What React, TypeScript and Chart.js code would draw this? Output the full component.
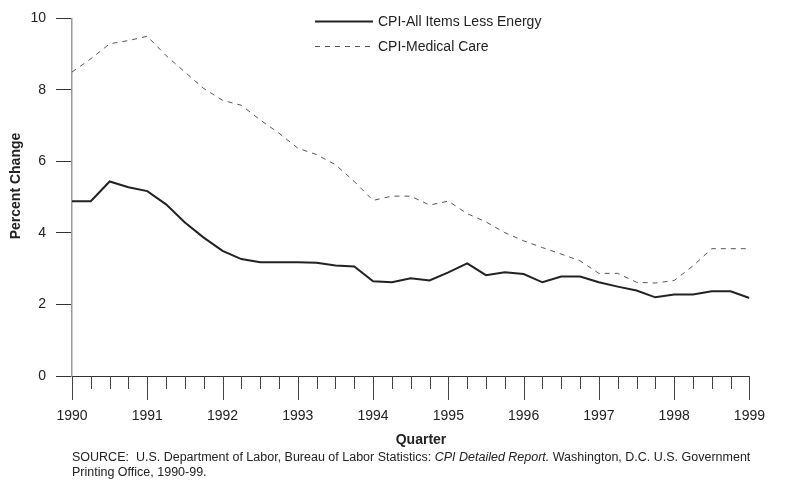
import React, { useEffect, useRef } from "react";
import { Chart, registerables } from "chart.js";

Chart.register(...registerables);

const yearLabels = ["1990", "1991", "1992", "1993", "1994", "1995", "1996", "1997", "1998", "1999"];
const seriesNames = ["CPI-All Items Less Energy", "CPI-Medical Care"];
const allItemsLessEnergy = [
  4.89, 4.89, 5.44, 5.28, 5.17, 4.8, 4.29, 3.87, 3.5, 3.27, 3.18, 3.18, 3.18, 3.17, 3.09, 3.06,
  2.65, 2.62, 2.73, 2.67, 2.9, 3.15, 2.82, 2.9, 2.85, 2.62, 2.78, 2.78, 2.62, 2.5, 2.39, 2.2,
  2.28, 2.28, 2.37, 2.37, 2.18,
];
const medicalCare = [
  8.5, 8.87, 9.29, 9.38, 9.5, 8.96, 8.5, 8.04, 7.71, 7.57, 7.16, 6.79, 6.37, 6.19, 5.91, 5.44,
  4.91, 5.03, 5.03, 4.78, 4.89, 4.54, 4.31, 4.01, 3.78, 3.59, 3.41, 3.22, 2.87, 2.87, 2.62, 2.6,
  2.67, 3.08, 3.56, 3.56, 3.56,
];
const yTicks = [0, 2, 4, 6, 8, 10];
const yTitle = "Percent Change";
const xTitle = "Quarter";

const FONT = "'Liberation Sans', Arial, Helvetica, sans-serif";
const TEXT = "#222";

const decorPlugin = {
  id: "decor",
  afterDraw(chart: any) {
    const ctx = chart.ctx as CanvasRenderingContext2D;
    const xs = chart.scales.x;
    const area = chart.chartArea;
    ctx.save();
    // quarter / year tick marks
    ctx.strokeStyle = "#444";
    ctx.lineWidth = 1;
    const n = allItemsLessEnergy.length;
    for (let i = 0; i < n; i++) {
      const px = Math.round(xs.getPixelForValue(i)) + 0.5;
      const len = i % 4 === 0 ? 24 : 13;
      ctx.beginPath();
      ctx.moveTo(px, area.bottom);
      ctx.lineTo(px, area.bottom + len);
      ctx.stroke();
    }
    // legend
    const ds = chart.data.datasets;
    const rows = [21, 46];
    ds.forEach((d: any, k: number) => {
      ctx.save();
      ctx.strokeStyle = d.borderColor;
      ctx.lineWidth = d.borderWidth;
      ctx.setLineDash(d.borderDash || []);
      ctx.beginPath();
      ctx.moveTo(315, rows[k] + 0.5);
      ctx.lineTo(373, rows[k] + 0.5);
      ctx.stroke();
      ctx.restore();
      ctx.fillStyle = TEXT;
      ctx.font = `14px ${FONT}`;
      ctx.textBaseline = "middle";
      ctx.textAlign = "left";
      ctx.fillText(d.label, 378, rows[k] + 1);
    });
    // axis titles
    ctx.fillStyle = TEXT;
    ctx.font = `bold 14px ${FONT}`;
    ctx.textAlign = "center";
    ctx.textBaseline = "middle";
    ctx.fillText(xTitle, 421, 440);
    ctx.translate(16, 186);
    ctx.rotate(-Math.PI / 2);
    ctx.fillText(yTitle, 0, 0);
    ctx.restore();
  },
};

export default function App() {
  const ref = useRef<HTMLCanvasElement | null>(null);
  useEffect(() => {
    document.body.style.margin = "0";
    const chart = new Chart(ref.current as HTMLCanvasElement, {
      type: "line",
      data: {
        datasets: [
          {
            label: seriesNames[0],
            data: allItemsLessEnergy.map((v, i) => ({ x: i, y: v })),
            borderColor: "#222",
            borderWidth: 2,
            pointRadius: 0,
            tension: 0,
            fill: false,
          },
          {
            label: seriesNames[1],
            data: medicalCare.map((v, i) => ({ x: i, y: v })),
            borderColor: "#555",
            borderWidth: 1,
            borderDash: [5, 5],
            pointRadius: 0,
            tension: 0,
            fill: false,
          },
        ],
      },
      options: {
        animation: false,
        responsive: false,
        maintainAspectRatio: false,
        layout: { padding: { top: 16, right: 46, left: 0, bottom: 0 } },
        plugins: { legend: { display: false }, tooltip: { enabled: false } },
        scales: {
          x: {
            type: "linear",
            min: 0,
            max: allItemsLessEnergy.length - 1,
            afterFit: (s: any) => {
              s.height = 108;
            },
            afterBuildTicks: (s: any) => {
              s.ticks = yearLabels.map((_, i) => ({ value: i * 4 }));
            },
            ticks: {
              autoSkip: false,
              maxRotation: 0,
              padding: 32,
              color: TEXT,
              font: { family: FONT, size: 14 },
              callback: (v: any) => yearLabels[Math.round(Number(v) / 4)],
            },
            grid: { drawOnChartArea: false, drawTicks: false },
            border: { color: "#333", width: 1 },
          },
          y: {
            min: 0,
            max: 10,
            afterFit: (s: any) => {
              s.width = 72;
            },
            afterBuildTicks: (s: any) => {
              s.ticks = yTicks.map((v) => ({ value: v }));
            },
            ticks: {
              padding: 10,
              color: TEXT,
              font: { family: FONT, size: 14 },
            },
            grid: { drawOnChartArea: false, drawTicks: true, tickLength: 16, color: "#333" },
            border: { color: "#999", width: 1.5 },
          },
        },
      },
      plugins: [decorPlugin],
    });
    return () => chart.destroy();
  }, []);

  return (
    <div style={{ position: "absolute", left: 0, top: 0, width: 797, height: 484, background: "#fff" }}>
      <canvas ref={ref} width={797} height={484} style={{ display: "block" }} />
      <div
        style={{
          position: "absolute",
          left: 72,
          top: 450,
          fontFamily: FONT,
          fontSize: 12.5,
          lineHeight: "14.5px",
          color: TEXT,
          whiteSpace: "pre",
        }}
      >
        {"SOURCE:  U.S. Department of Labor, Bureau of Labor Statistics: "}
        <i>CPI Detailed Report.</i>
        {" Washington, D.C. U.S. Government"}
        <br />
        {"Printing Office, 1990-99."}
      </div>
    </div>
  );
}
